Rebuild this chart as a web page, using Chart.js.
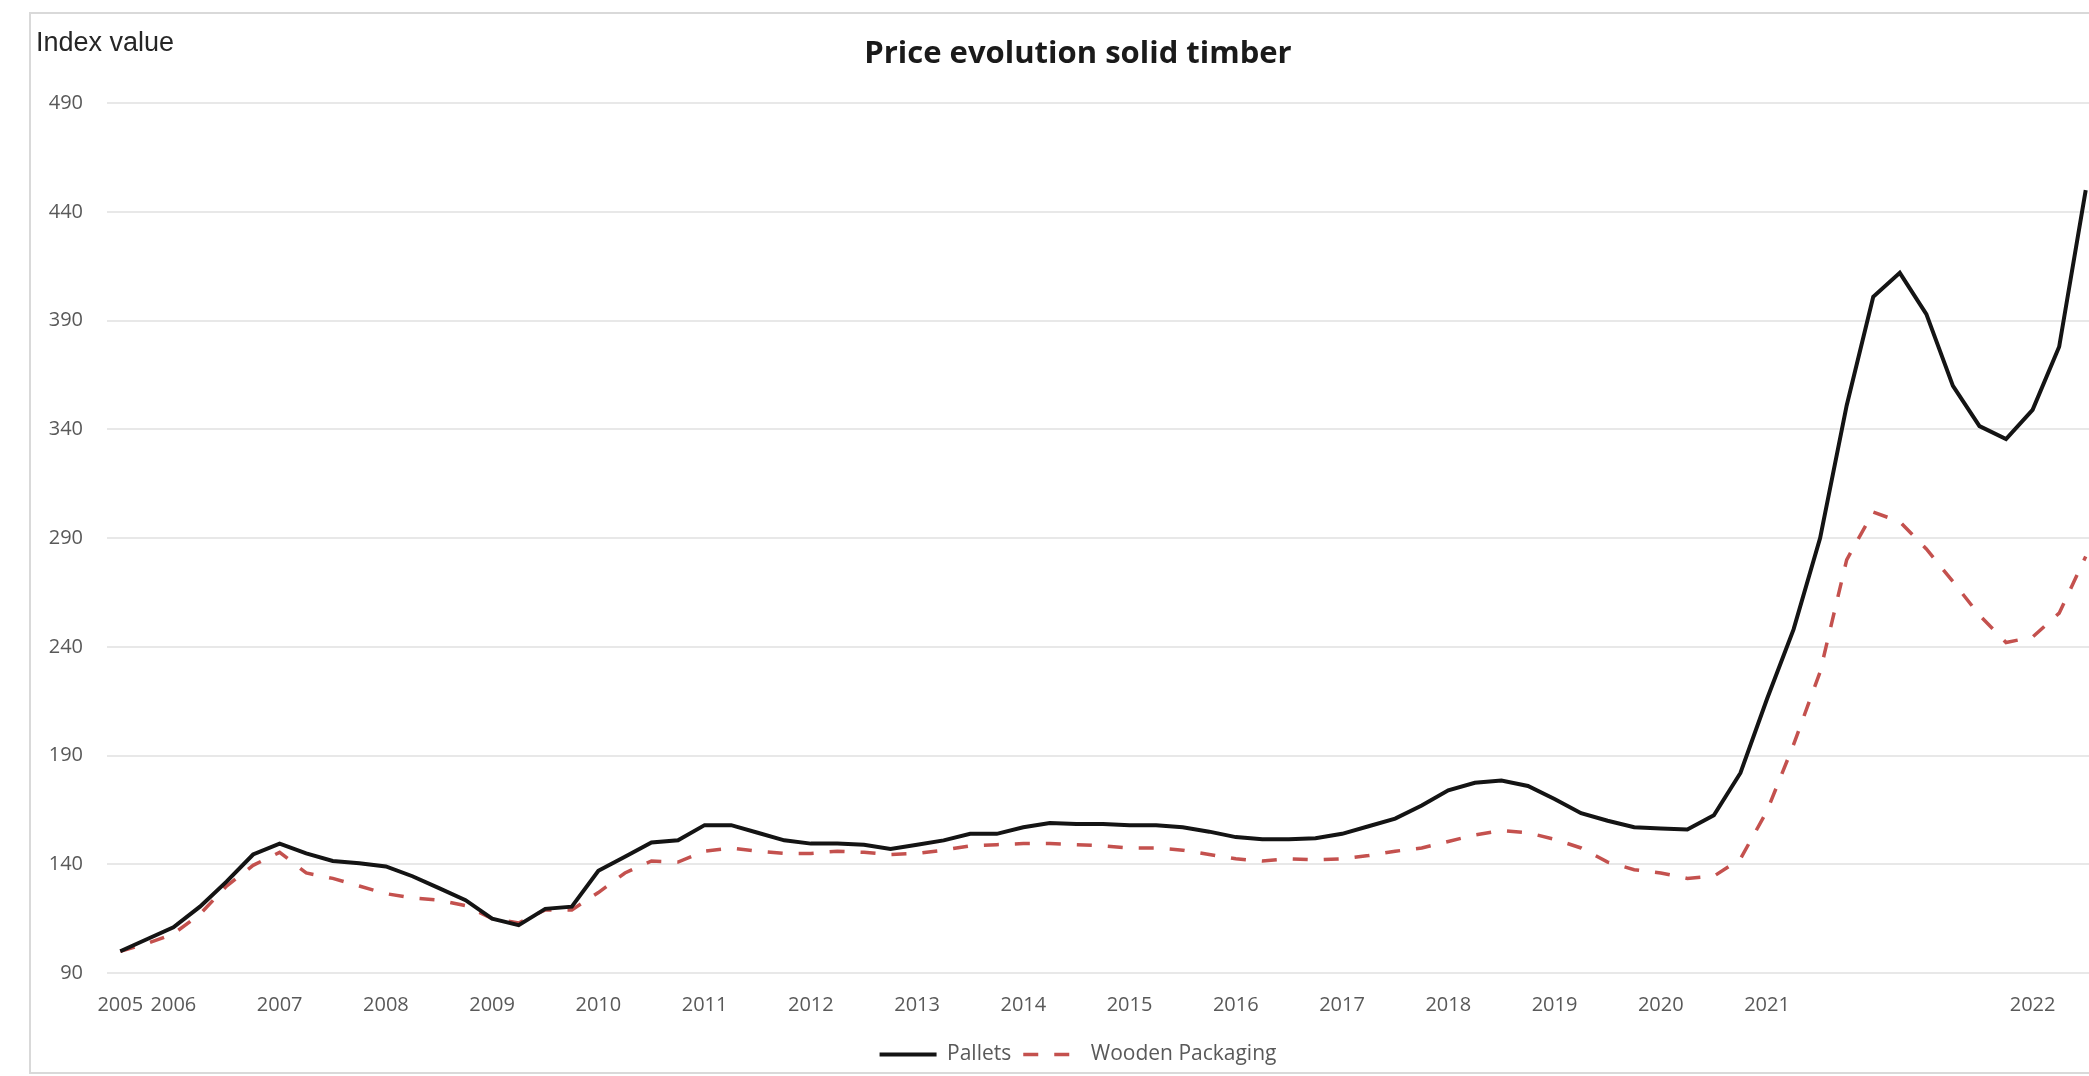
<!DOCTYPE html>
<html>
<head>
<meta charset="utf-8">
<title>Price evolution solid timber</title>
<script src="https://cdn.jsdelivr.net/npm/chart.js@4.4.1/dist/chart.umd.min.js"></script>
<style>
  html, body { margin: 0; padding: 0; background: #fff; overflow: hidden; }
  #wrap { width: 2089px; height: 1076px; overflow: hidden; }
</style>
</head>
<body>
<div id="wrap"><canvas id="timber" width="2156" height="1076"></canvas></div>
<script>
  // quarterly points, only some of them carry a year label
  const categories = [
    '2005', '',
    '2006', '', '', '',
    '2007', '', '', '',
    '2008', '', '', '',
    '2009', '', '', '',
    '2010', '', '', '',
    '2011', '', '', '',
    '2012', '', '', '',
    '2013', '', '', '',
    '2014', '', '', '',
    '2015', '', '', '',
    '2016', '', '', '',
    '2017', '', '', '',
    '2018', '', '', '',
    '2019', '', '', '',
    '2020', '', '', '',
    '2021', '', '', '',
    '', '', '', '', '', '',
    '2022', '', ''
  ];

  const pallets = [
    100, 105.5, 111, 120.5, 132, 144.5, 149.5, 145, 141.5, 140.5,
    139, 134.5, 129, 123.5, 115, 112, 119.5, 120.5, 137, 143.5,
    150, 151, 158, 158, 154.5, 151, 149.5, 149.5, 149, 147,
    149, 151, 154, 154, 157, 159, 158.5, 158.5, 158, 158,
    157, 155, 152.5, 151.5, 151.5, 152, 154, 157.5, 161, 167,
    174, 177.5, 178.5, 176, 170, 163.5, 160, 157, 156.5, 156,
    162.5, 182, 216, 248, 290, 351, 401, 412, 393, 360,
    341.5, 335.5, 349, 378, 450
  ];

  const woodenPackaging = [
    100, 103.5, 108, 117, 130, 139.5, 145.5, 136, 133.5, 130,
    126.5, 124.5, 123.5, 121, 115, 113, 119, 119, 127, 136,
    141.5, 141, 146, 147.5, 146, 145, 145, 146, 145.5, 144.5,
    145, 146.5, 148.5, 149, 149.5, 149.5, 149, 148.5, 147.5, 147.5,
    146.5, 144.5, 142.5, 141.5, 142.5, 142, 142.5, 144, 146, 147.5,
    150.5, 153.5, 155.5, 154.5, 151.5, 147.5, 141, 137.5, 136, 133.5,
    134.5, 142.5, 164.5, 195, 228.5, 280, 302, 297.5, 285, 270,
    254.5, 242, 244.5, 255.5, 281.5
  ];

  const yTicks = [90, 140, 190, 240, 290, 340, 390, 440, 490];

  const tickFont = { family: "'Open Sans', sans-serif", size: 20 };

  // excel-like chart frame + the "Index value" caption
  const chartFrame = {
    id: 'chartFrame',
    beforeDraw: (chart) => {
      const { ctx } = chart;
      ctx.save();
      ctx.fillStyle = '#fff';
      ctx.fillRect(0, 0, chart.width, chart.height);
      ctx.strokeStyle = '#d9d9d9';
      ctx.lineWidth = 2;
      ctx.strokeRect(30, 13, 2096, 1060);
      ctx.restore();
    },
    afterDraw: (chart) => {
      const { ctx } = chart;
      ctx.save();
      ctx.font = "27px 'Liberation Sans', Arial, sans-serif";
      ctx.fillStyle = '#262626';
      ctx.textBaseline = 'middle';
      ctx.fillText('Index value', 36, 44);
      ctx.restore();
    }
  };

  const ctx = document.getElementById('timber');
  new Chart(ctx, {
    type: 'line',
    data: {
      labels: categories,
      datasets: [
        {
          label: 'Pallets',
          data: pallets,
          borderColor: '#141414',
          backgroundColor: '#141414',
          borderWidth: 4,
          pointRadius: 0,
          tension: 0,
          fill: false
        },
        {
          label: 'Wooden Packaging',
          data: woodenPackaging,
          borderColor: '#c4514e',
          backgroundColor: '#c4514e',
          borderWidth: 3.5,
          borderDash: [15, 16],
          pointRadius: 0,
          tension: 0,
          fill: false
        }
      ]
    },
    options: {
      responsive: false,
      animation: false,
      devicePixelRatio: 1,
      layout: { padding: { left: 57, right: 57, top: 0, bottom: 1 } },
      scales: {
        x: {
          offset: true,
          afterFit: (scale) => { scale.height = 59; },
          grid: { display: false, drawTicks: false },
          border: { display: false },
          ticks: {
            autoSkip: false,
            maxRotation: 0,
            minRotation: 0,
            padding: 20,
            color: '#595959',
            font: tickFont
          }
        },
        y: {
          min: 90,
          max: 490,
          afterBuildTicks: (scale) => { scale.ticks = yTicks.map(v => ({ value: v })); },
          afterFit: (scale) => {
            scale.width = 50;
            // labels stick out left of the narrow axis box, so don't clip them
            scale._computeLabelArea = () => undefined;
          },
          grid: { color: '#e8e8e8', lineWidth: 2, drawTicks: false },
          border: { display: false },
          ticks: { padding: 24, color: '#595959', font: tickFont }
        }
      },
      plugins: {
        title: {
          display: true,
          text: 'Price evolution solid timber',
          color: '#1a1a1a',
          font: { family: "'Open Sans', sans-serif", size: 31, weight: 'bold' },
          padding: { top: 36, bottom: 30 }
        },
        legend: {
          position: 'bottom',
          labels: {
            usePointStyle: true,
            pointStyle: 'line',
            pointStyleWidth: 57,
            color: '#595959',
            font: { family: "'Open Sans', sans-serif", size: 21 },
            padding: 12,
            // point-style legend items lose the dataset dash, put it back
            generateLabels: (chart) => Chart.defaults.plugins.legend.labels.generateLabels(chart).map((item) => {
              item.lineDash = chart.data.datasets[item.datasetIndex].borderDash || [];
              return item;
            })
          }
        },
        tooltip: { enabled: false }
      }
    },
    plugins: [chartFrame]
  });
</script>
</body>
</html>
